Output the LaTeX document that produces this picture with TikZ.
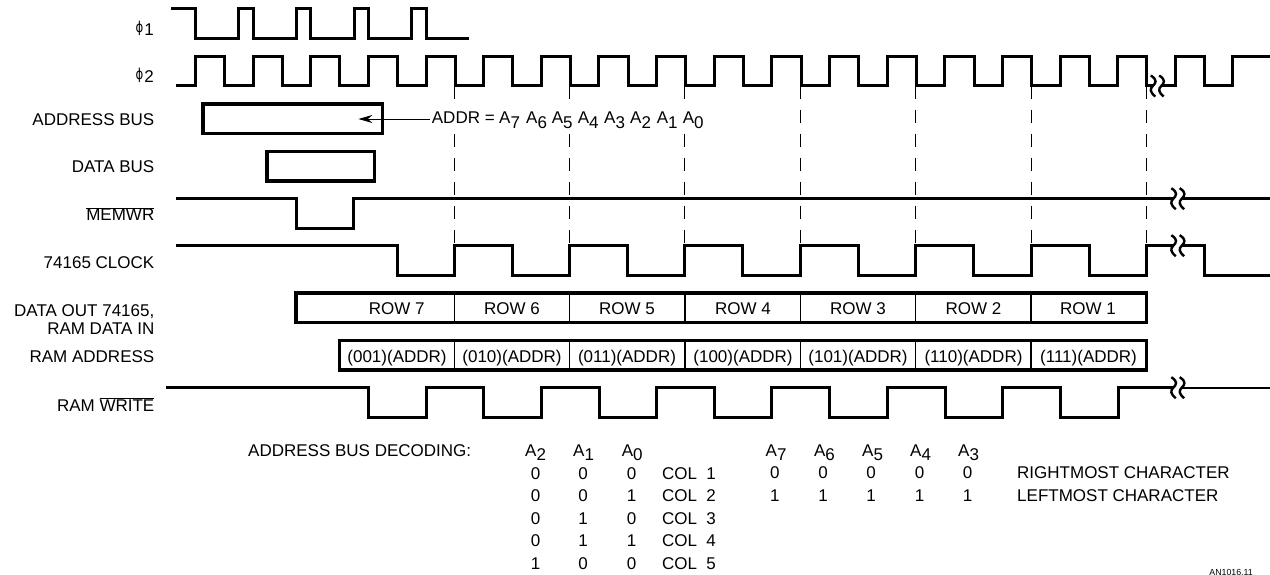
\documentclass[tikz,border=0pt]{standalone}
\usepackage{fontspec}
\setmainfont{Liberation Sans}
\newfontfamily\phifont{DejaVu Sans}
\usetikzlibrary{arrows.meta}
\newcommand{\Asub}[1]{A\raisebox{-4.5pt}{#1}}
\newcommand{\ovl}[1]{$\overline{\mbox{#1}}$}
\newcommand{\phisym}{\raisebox{3.1pt}{\scalebox{0.9}[1.15]{\phifont\fontsize{13}{13}\selectfont ϕ}}\kern1pt}
\tikzset{
  x=1pt,y=-1pt,
  wave/.style={line width=3pt,line join=miter},
  bus/.style={line width=3.2pt,line join=miter,outer sep=0pt,inner sep=0pt,anchor=north west},
  divider/.style={line width=1.6pt},
  guide/.style={line width=0.9pt,dash pattern=on 13pt off 11pt},
  lbl/.style={anchor=base east,inner sep=0pt,font=\fontsize{17}{17}\selectfont},
  txt/.style={anchor=base,inner sep=0pt,font=\fontsize{17}{17}\selectfont},
  txtl/.style={anchor=base west,inner sep=0pt,font=\fontsize{17}{17}\selectfont},
  brk/.style={line width=2.4pt},
  leader/.style={line width=0.9pt,-{Stealth[length=14pt,width=8pt]}},
}
\newcommand{\brkOne}[2]{\draw[brk] (#1-2,#2-10.5) .. controls (#1+5,#2-6) and (#1+3,#2-3) .. (#1,#2) .. controls (#1-3,#2+3) and (#1-3,#2+6) .. (#1+2.5,#2+10.5);}
\newcommand{\brkS}[2]{\fill[white] (#1-4,#2-2.5) rectangle (#1+4,#2+2.5);
  \brkOne{#1-4.2}{#2}\brkOne{#1+4.2}{#2}}
\begin{document}
\begin{tikzpicture}
\useasboundingbox (0,0) rectangle (1270,575);
% labels
\node[lbl] (lphi1) at (154,35.5) {\phisym 1};
\node[lbl] (lphi2) at (154,82.5) {\phisym 2};
\node[lbl] (laddr) at (154.5,126) {ADDRESS BUS};
\node[lbl] (ldata) at (154.5,173) {DATA BUS};
\node[lbl] (lmem) at (154.5,221) {\ovl{MEMWR}};
\node[lbl] (lclk) at (154.5,268) {74165 CLOCK};
\node[lbl] (lout) at (154.5,316) {DATA OUT 74165,};
\node[lbl] (lin) at (154.5,334) {RAM DATA IN};
\node[lbl] (lram) at (154.5,362.5) {RAM ADDRESS};
\node[lbl] (lwr) at (154.5,411) {RAM \ovl{WRITE}};
% guides
\foreach \x/\n in {454.5/a,569.6/b,684.7/c}{
  \coordinate (gt\n) at (\x,86);
  \coordinate (gm\n) at (\x,99);
  \coordinate (gn\n) at (\x,134);
  \coordinate (gb\n) at (\x,245.7);
  \draw[guide] (gt\n) -- (gm\n);
  \draw[guide] (gn\n) -- (gb\n);
}
\foreach \x/\n in {800.3/d,915.6/e,1031/f,1146.2/g}{
  \coordinate (gt\n) at (\x,86);
  \coordinate (gb\n) at (\x,245.7);
  \draw[guide] (gt\n) -- (gb\n);
}
% phi1
\draw[wave] (171,9) -| (195,39) -| (238,9) -| (253,39) -| (296,9) -| (310.6,39) -| (354,9) -| (368.6,39) -| (411.5,9) -| (426,39) -- (468.6,39);
% phi2
\draw[wave] (175.5,86) -| (195,56.7) -| (224.5,86) -| (253,56.7) -| (282.2,86) -| (310.6,56.7) -| (339.8,86) -| (368.3,56.7) -| (397.5,86) -| (426,56.7) -| (455.1,86) -| (483.6,56.7) -| (512.8,86) -| (541.3,56.7) -| (570.4,86) -| (598.9,56.7) -| (628,86) -| (656.5,56.7) -| (685.7,86) -| (714.2,56.7) -| (743.4,86) -| (771.9,56.7) -| (801,86) -| (829.5,56.7) -| (858.7,86) -| (887.2,56.7) -| (916.3,86) -| (944.8,56.7) -| (974,86) -| (1002.5,56.7) -| (1031.6,86) -| (1060.1,56.7) -| (1089.3,86) -| (1117.8,56.7) -| (1146.9,86) -| (1175.4,56.7) -| (1204.5,86) -| (1232.8,56.7) -- (1270,56.7);
\brkS{1157}{86}
% address bus box
\node[draw,bus,minimum width=179.5pt,minimum height=29.7pt] (addrbox) at (203,104) {};
\node[draw,bus,minimum width=107.3pt,minimum height=29.3pt] (databox) at (267,151.7) {};
% addr text
\node[txtl] (addrtxt) at (431.7,124) {ADDR =};
\coordinate (arrtip) at (358.4,119);
\draw[leader] ([xshift=-2pt]addrtxt.west |- arrtip) -- (arrtip);
\foreach \x/\d in {499/7,526/6,551.7/5,577.7/4,604/3,630/2,656.7/1,682.7/0}{
  \node[txtl] (aa\d) at (\x,124) {\Asub{\d}};
}
% memwr
\draw[wave] (175.5,198.7) -| (296,228) -| (353,198.7) -- (1270,198.7);
\brkS{1177.5}{198.7}
% clock
\draw[wave] (176,245.7) -| (397,275) -| (454.5,245.7) -| (512,275) -| (569.6,245.7) -| (627,275) -| (684.7,245.7) -| (742.5,275) -| (800.3,245.7) -| (858,275) -| (915.6,245.7) -| (973,275) -| (1031,245.7) -| (1089,275) -| (1146.2,245.7) -| (1204.5,275) -- (1270,275);
\brkS{1177.5}{245.7}
% row box
\node[draw,bus,minimum width=850.2pt,minimum height=29.3pt] (rowbox) at (296,293) {};
\foreach \x in {454.5,569.6,684.7,800.3,915.6,1031}{
  \draw[divider] (\x,293) -- (\x,322.3);
  \draw[divider] (\x,340.3) -- (\x,370);
}
\foreach \x/\t in {396.7/7,512/6,627/5,743/4,858/3,973.5/2,1088/1}{
  \node[txt] (row\t) at (\x,314) {ROW \t};
}
% ram addr box
\node[draw,bus,minimum width=806.6pt,minimum height=29.7pt] (rambox) at (339.6,340.3) {};
\foreach \x/\t in {397/001,512/010,627/011,743/100,858/101,973.5/110,1088.5/111}{
  \node[txt] (ram\t) at (\x,362) {(\t)(ADDR)};
}
% ram write
\draw[wave] (166,387.7) -| (368.6,417.7) -| (426.5,387.7) -| (483.5,417.7) -| (541.6,387.7) -| (599,417.7) -| (656,387.7) -| (714.3,417.7) -| (771.8,387.7) -| (829.6,417.7) -| (887,387.7) -| (945.3,417.7) -| (1002.8,387.7) -| (1060,417.7) -| (1118,387.7) -- (1177,387.7);
\draw[line width=2pt] (1177,387.7) -- (1270,387.7);
\brkS{1177.5}{387.7}
% decoding
\node[txtl] (dec) at (248,456.7) {ADDRESS BUS DECODING:};
\foreach \x/\d in {525/2,573/1,621.7/0,765.5/7,813.8/6,862/5,910/4,958/3}{
  \node[txtl] (h\d) at (\x,456) {\Asub{\d}};
}
\foreach \y/\a/\b/\c/\t in {479.3/0/0/0/1,501.7/0/0/1/2,524.3/0/1/0/3,546.7/0/1/1/4,569.3/1/0/0/5}{
  \node[txt] at (535.7,\y) {\a};
  \node[txt] at (583,\y) {\b};
  \node[txt] at (631.7,\y) {\c};
  \node[txtl] at (662,\y) {COL};
  \node[txt] at (711,\y) {\t};
}
\foreach \x in {774.8,823,871,919.5,967.5}{
  \node[txt] at (\x,478.7) {0};
  \node[txt] at (\x,501) {1};
}
\node[txtl] (rc) at (1017,478.7) {RIGHTMOST CHARACTER};
\node[txtl] (lc) at (1017,501) {LEFTMOST CHARACTER};
\node[anchor=base east,inner sep=0pt,font=\fontsize{8.8}{9}\selectfont] (an) at (1253,575) {AN1016.11};
\end{tikzpicture}
\end{document}
